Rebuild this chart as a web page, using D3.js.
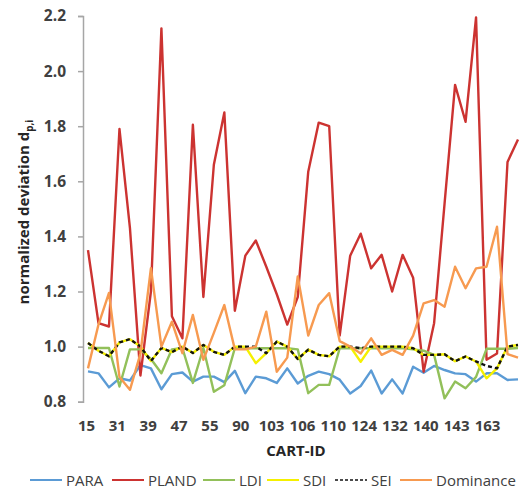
<!DOCTYPE html>
<html>
<head>
<meta charset="utf-8">
<script src="https://cdn.jsdelivr.net/npm/d3@7/dist/d3.min.js"></script>
<style>
  body { margin: 0; background: #fff; }
  text { font-family: "Open Sans", "Noto Sans", sans-serif; }
</style>
</head>
<body>
<svg id="chart" width="532" height="492"></svg>
<script>
// CART-ID labels shown on the axis (every third category)
const tickLabels = ["15", "31", "39", "47", "55", "90", "103", "106", "110", "124", "132", "140", "143", "163"];

const seriesNames = ["PARA", "PLAND", "LDI", "SDI", "SEI", "Dominance"];

const para = [0.91, 0.903, 0.852, 0.885, 0.877, 0.933, 0.921, 0.845, 0.90, 0.906,
  0.873, 0.891, 0.891, 0.871, 0.912, 0.831, 0.891, 0.885, 0.868, 0.921,
  0.866, 0.894, 0.909, 0.90, 0.88, 0.83, 0.857, 0.913, 0.83, 0.881,
  0.83, 0.927, 0.905, 0.93, 0.915, 0.903, 0.90, 0.873, 0.903, 0.903,
  0.879, 0.881];
const pland = [1.35, 1.085, 1.073, 1.79, 1.43, 0.895, 1.2, 2.155, 1.11, 1.03,
  1.805, 1.18, 1.66, 1.85, 1.13, 1.33, 1.385, 1.29, 1.19, 1.08,
  1.18, 1.635, 1.813, 1.80, 1.04, 1.33, 1.41, 1.284, 1.333, 1.20,
  1.333, 1.25, 0.909, 1.085, 1.52, 1.95, 1.816, 2.195, 0.952, 0.975,
  1.67, 1.752];
const ldi = [0.995, 0.995, 0.995, 0.855, 0.99, 0.99, 0.955, 0.903, 0.99, 0.995,
  0.868, 0.995, 0.836, 0.86, 0.994, 0.994, 0.994, 0.994, 0.994, 0.994,
  0.99, 0.831, 0.861, 0.861, 0.994, 0.994, 0.994, 0.994, 0.994, 0.994,
  0.994, 0.99, 0.985, 0.97, 0.812, 0.873, 0.849, 0.89, 0.992, 0.992,
  0.992, 0.995];
const sdi = [1.013, 0.985, 0.965, 1.015, 1.027, 1.0, 0.948, 0.995, 0.98, 1.0,
  0.977, 1.006, 0.981, 0.97, 1.0, 1.0, 0.94, 0.976, 1.018, 1.0,
  0.955, 0.989, 0.97, 0.965, 1.0, 1.0, 0.945, 1.0, 1.0, 1.0,
  1.0, 0.994, 0.97, 0.97, 0.972, 0.947, 0.964, 0.946, 0.885, 0.921,
  1.0, 1.006];
const sei = [1.013, 0.985, 0.965, 1.015, 1.027, 1.0, 0.948, 0.995, 0.98, 1.0,
  0.977, 1.006, 0.981, 0.97, 1.0, 1.0, 1.0, 0.976, 1.018, 1.0,
  0.955, 0.989, 0.97, 0.965, 1.0, 1.0, 0.994, 1.0, 1.0, 1.0,
  1.0, 0.994, 0.97, 0.97, 0.972, 0.947, 0.964, 0.946, 0.93, 0.921,
  1.0, 1.006];
const dominance = [0.921, 1.08, 1.195, 0.89, 0.843, 0.975, 1.285, 1.0, 1.09, 0.976,
  1.115, 0.952, 1.05, 1.151, 0.99, 0.99, 1.0, 1.127, 0.909, 0.96,
  1.255, 1.04, 1.151, 1.194, 1.02, 1.0, 0.975, 1.03, 0.97, 0.988,
  0.97, 1.04, 1.157, 1.169, 1.145, 1.29, 1.212, 1.284, 1.29, 1.435,
  0.973, 0.96];

const seriesValues = [para, pland, ldi, sdi, sei, dominance];
const colors = ["#5b9bd5", "#cc3331", "#92c05a", "#f5f000", "#111111", "#f79a50"];
const yTicks = [0.8, 1.0, 1.2, 1.4, 1.6, 1.8, 2.0, 2.2];

const svg = d3.select("#chart");
const n = para.length;

const x = d3.scalePoint()
  .domain(d3.range(n))
  .range([88, 518]);

// label row is laid out a little tighter than the data points (as in the original)
const xLabel = d3.scalePoint()
  .domain(tickLabels)
  .range([86, 487]);

const y = d3.scaleLinear()
  .domain([0.8, 2.2])
  .range([401.7, 16]);

// y axis
const yAxis = svg.append("g")
  .attr("transform", "translate(83,0)")
  .call(d3.axisLeft(y).tickValues(yTicks).tickFormat(d3.format(".1f")).tickSize(5).tickPadding(12));
yAxis.select(".domain").attr("stroke", "#a6a6a6").attr("stroke-width", 1.5);
yAxis.selectAll(".tick line").attr("stroke", "#a6a6a6").attr("stroke-width", 1.5);
yAxis.selectAll(".tick text")
  .attr("fill", "#404040")
  .style("font-size", "15.5px")
  .style("font-weight", "bold");

// x axis (labels only)
const xAxis = svg.append("g")
  .attr("transform", "translate(0,412)")
  .call(d3.axisBottom(xLabel).tickSize(0).tickPadding(8));
xAxis.select(".domain").remove();
xAxis.selectAll(".tick text")
  .attr("fill", "#404040")
  .style("font-size", "15px")
  .style("font-weight", "bold");

svg.append("text")
  .attr("x", 296).attr("y", 456)
  .attr("text-anchor", "middle")
  .attr("fill", "#262626")
  .style("font-size", "15px")
  .style("font-weight", "bold")
  .text("CART-ID");

const yTitle = svg.append("text")
  .attr("transform", "translate(29,212) rotate(-90)")
  .attr("text-anchor", "middle")
  .attr("fill", "#262626")
  .style("font-size", "15px")
  .style("font-weight", "bold");
yTitle.append("tspan").text("normalized deviation d");
yTitle.append("tspan").attr("dy", 4).style("font-size", "10px").text("p,i");

// lines
const line = d3.line()
  .x((d, i) => x(i))
  .y(d => y(d));

const plot = svg.append("g").attr("class", "lines");
seriesValues.forEach((vals, k) => {
  plot.append("path")
    .datum(vals)
    .attr("d", line)
    .attr("fill", "none")
    .attr("stroke", colors[k])
    .attr("stroke-width", 2.4)
    .attr("stroke-linejoin", "round")
    .attr("stroke-dasharray", seriesNames[k] === "SEI" ? "4,3" : null);
});

// legend
const legendX = [30, 112, 203, 267, 335, 400];
const legend = svg.append("g").attr("class", "legend");
seriesNames.forEach((name, k) => {
  const g = legend.append("g").attr("transform", "translate(" + legendX[k] + ",480)");
  g.append("line")
    .attr("x1", 0).attr("x2", 32)
    .attr("stroke", colors[k])
    .attr("stroke-width", name === "SEI" ? 1.5 : 2)
    .attr("stroke-dasharray", name === "SEI" ? "3,2" : null);
  g.append("text")
    .attr("x", 36).attr("y", 5.5)
    .attr("fill", "#404040")
    .style("font-size", "15px")
    .text(name);
});
</script>
</body>
</html>
